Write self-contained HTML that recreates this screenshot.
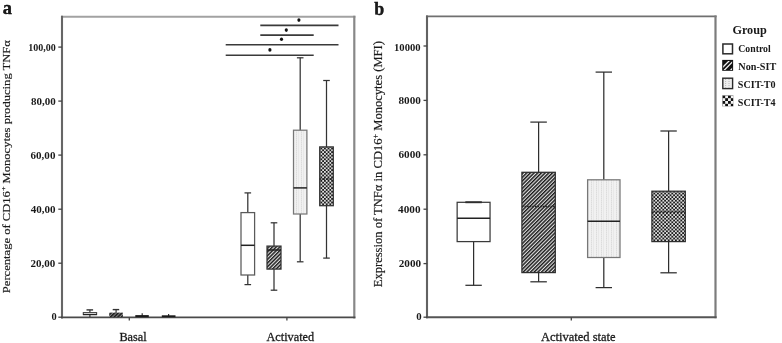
<!DOCTYPE html>
<html><head><meta charset="utf-8"><style>
html,body{margin:0;padding:0;background:#fff;}
svg{display:block;}
text{font-family:"Liberation Serif","Times New Roman",serif;fill:#1a1a1a;}
.hv{stroke:#1a1a1a;stroke-width:0.3px;}
.hl{stroke:#1a1a1a;stroke-width:0.18px;}
</style></head><body>
<svg width="782" height="343" viewBox="0 0 782 343">
<defs>
<pattern id="hatch" patternUnits="userSpaceOnUse" x="0" y="0" width="2.6" height="2.6" patternTransform="rotate(45)">
<rect x="0" y="0" width="2.6" height="2.6" fill="#e2e2e2"/>
<rect x="0" y="0" width="1.45" height="2.6" fill="#1a1a1a"/>
</pattern>
<pattern id="dots" patternUnits="userSpaceOnUse" x="0" y="0" width="5" height="2">
<rect x="0" y="0" width="5" height="2" fill="#f1f1f1"/>
<rect x="1" y="0" width="1" height="2" fill="#dcdcdc"/>
<rect x="1" y="1" width="1" height="1" fill="#e6e6e6"/>
<rect x="3" y="0" width="1" height="2" fill="#e8e8e8"/>
</pattern>
<pattern id="check" patternUnits="userSpaceOnUse" x="0" y="0" width="3.6" height="3.6">
<rect x="0" y="0" width="3.6" height="3.6" fill="#dedede"/>
<rect x="0" y="0" width="1.8" height="1.8" fill="#1c1c1c"/>
<rect x="1.8" y="1.8" width="1.8" height="1.8" fill="#1c1c1c"/>
</pattern>
<pattern id="lcheck" patternUnits="userSpaceOnUse" x="722.4" y="95.4" width="5.6" height="5.6">
<rect x="0" y="0" width="5.6" height="5.6" fill="#f2f2f2"/>
<rect x="0" y="0" width="2.8" height="2.8" fill="#111"/>
<rect x="2.8" y="2.8" width="2.8" height="2.8" fill="#111"/>
</pattern>
<clipPath id="lhclip"><rect x="723.2" y="61" width="8.9" height="8.9"/></clipPath>
</defs>
<text id="ta" x="2.7" y="14.2" font-size="19" font-weight="bold" textLength="9.2" lengthAdjust="spacingAndGlyphs" fill="#000" stroke="#000" stroke-width="0.4">a</text>
<text id="yla" class="hl" transform="translate(9.8,293.2) rotate(-90)" font-size="11" textLength="253.2" lengthAdjust="spacingAndGlyphs">Percentage of CD16<tspan font-size="7" dy="-4">+</tspan><tspan dy="4"> Monocytes producing TNFα</tspan></text>
<g fill="none"><line x1="61" y1="16.8" x2="355.4" y2="16.8" stroke="#a2a2a2" stroke-width="2.1"/><line x1="354.3" y1="15.7" x2="354.3" y2="318.4" stroke="#888" stroke-width="2.2"/><line x1="62" y1="15.7" x2="62" y2="318.4" stroke="#666" stroke-width="2.1"/><line x1="61" y1="317.4" x2="355.4" y2="317.4" stroke="#4a4a4a" stroke-width="1.9"/></g>
<g stroke="#444" stroke-width="1.3">
<line x1="58.3" y1="47.1" x2="62" y2="47.1"/>
<line x1="58.3" y1="101.1" x2="62" y2="101.1"/>
<line x1="58.3" y1="155.1" x2="62" y2="155.1"/>
<line x1="58.3" y1="209.2" x2="62" y2="209.2"/>
<line x1="58.3" y1="263.2" x2="62" y2="263.2"/>
<line x1="58.3" y1="317.2" x2="62" y2="317.2"/>
<line x1="129.3" y1="317.2" x2="129.3" y2="320.6"/>
<line x1="286.9" y1="317.2" x2="286.9" y2="320.6"/>
</g>
<g font-size="11.0" text-anchor="end" font-weight="bold">
<text id="a100" x="55.8" y="50.5" textLength="27.6" lengthAdjust="spacingAndGlyphs">100,00</text>
<text id="a80" x="55.8" y="104.7" textLength="24.8" lengthAdjust="spacingAndGlyphs">80,00</text>
<text id="a60" x="55.4" y="158.5" textLength="24.8" lengthAdjust="spacingAndGlyphs">60,00</text>
<text id="a40" x="55.6" y="213.3" textLength="24.8" lengthAdjust="spacingAndGlyphs">40,00</text>
<text id="a20" x="55.3" y="266.8" textLength="24.8" lengthAdjust="spacingAndGlyphs">20,00</text>
<text id="a0" x="56.6" y="320.3" textLength="5.2" lengthAdjust="spacingAndGlyphs">0</text>
</g>
<text id="basal" x="119.4" y="340.5" font-size="13" textLength="27.3" lengthAdjust="spacingAndGlyphs" fill="#111" class="hv">Basal</text>
<text id="act" x="266.5" y="340.5" font-size="13" textLength="47.7" lengthAdjust="spacingAndGlyphs" fill="#111" class="hv">Activated</text>
<g stroke="#3a3a3a" stroke-width="1.6">
<line x1="260.3" y1="25.4" x2="338.5" y2="25.4"/>
<line x1="260.3" y1="35.1" x2="313.7" y2="35.1"/>
<line x1="225.7" y1="44.7" x2="338.5" y2="44.7"/>
<line x1="225.7" y1="55.2" x2="313.7" y2="55.2"/>
</g>
<g fill="#111">
<ellipse cx="298.9" cy="20.1" rx="1.6" ry="1.8"/>
<ellipse cx="286.3" cy="30.1" rx="1.6" ry="1.8"/>
<ellipse cx="281.5" cy="39.3" rx="1.6" ry="1.8"/>
<ellipse cx="269.9" cy="49.9" rx="1.6" ry="1.8"/>
</g>
<g stroke="#333" stroke-width="1.2">
<line x1="89.9" y1="309.9" x2="89.9" y2="317"/><line x1="86.5" y1="309.9" x2="93.1" y2="309.9" stroke-width="1.4"/>
<rect x="83.3" y="312.6" width="13.3" height="2" fill="#fff" stroke="#444" stroke-width="1.1"/><line x1="83" y1="314.5" x2="96.9" y2="314.5" stroke="#222" stroke-width="1.2"/>
<line x1="116.1" y1="309.6" x2="116.1" y2="313"/><line x1="112.7" y1="309.6" x2="119.2" y2="309.6" stroke-width="1.4"/>
<rect x="109.3" y="312.7" width="13.5" height="4.4" fill="url(#hatch)" stroke="none"/>
<rect x="109.3" y="312.7" width="13.5" height="4.4" fill="#111" opacity="0.45" stroke="none"/>
<line x1="142.2" y1="313.3" x2="142.2" y2="316"/><rect x="135.3" y="315.1" width="13.5" height="2.1" fill="#1a1a1a" stroke="none"/>
<line x1="168.6" y1="314" x2="168.6" y2="316"/><rect x="161.8" y="315.3" width="13.7" height="1.9" fill="#1a1a1a" stroke="none"/>
</g>
<g stroke="#333" stroke-width="1.25">
<line x1="247.8" y1="192.9" x2="247.8" y2="284.6"/>
<line x1="244.50" y1="192.9" x2="251.10" y2="192.9"/>
<line x1="244.50" y1="284.6" x2="251.10" y2="284.6"/>
<rect x="241.00" y="212.6" width="13.6" height="62.40" fill="#fff" stroke="#5a5a5a"/>
<line x1="241.00" y1="245.3" x2="254.60" y2="245.3" stroke-width="1.5" stroke="#222"/>
<line x1="274.0" y1="222.8" x2="274.0" y2="290.2"/>
<line x1="270.70" y1="222.8" x2="277.30" y2="222.8"/>
<line x1="270.70" y1="290.2" x2="277.30" y2="290.2"/>
<rect x="267.00" y="246.1" width="14.0" height="23.00" fill="url(#hatch)"/>
<line x1="267.00" y1="250.0" x2="281.00" y2="250.0" stroke-width="1.5" stroke="#222"/>
<line x1="300.2" y1="57.8" x2="300.2" y2="261.8"/>
<line x1="296.90" y1="57.8" x2="303.50" y2="57.8"/>
<line x1="296.90" y1="261.8" x2="303.50" y2="261.8"/>
<rect x="293.50" y="130.2" width="13.4" height="83.80" fill="url(#dots)" stroke="#777"/>
<line x1="293.50" y1="187.9" x2="306.90" y2="187.9" stroke-width="1.5" stroke="#222"/>
<line x1="326.5" y1="80.5" x2="326.5" y2="258.1"/>
<line x1="323.20" y1="80.5" x2="329.80" y2="80.5"/>
<line x1="323.20" y1="258.1" x2="329.80" y2="258.1"/>
<rect x="319.70" y="146.9" width="13.6" height="58.80" fill="url(#check)"/>
<line x1="319.70" y1="179.0" x2="333.30" y2="179.0" stroke-width="1.5" stroke="#222" stroke-dasharray="1.8 1.8"/>
</g>
<text id="tb" x="374.2" y="14.8" font-size="19.5" font-weight="bold" textLength="10.0" lengthAdjust="spacingAndGlyphs" fill="#000" stroke="#000" stroke-width="0.4">b</text>
<text id="ylb" class="hl" transform="translate(382.2,287.3) rotate(-90)" font-size="11.6" textLength="246.3" lengthAdjust="spacingAndGlyphs">Expression of TNFα in CD16<tspan font-size="7.4" dy="-4">+</tspan><tspan dy="4"> Monocytes (MFI)</tspan></text>
<g fill="none"><line x1="426" y1="16.4" x2="716.6" y2="16.4" stroke="#707070" stroke-width="1.8"/><line x1="715.5" y1="15.4" x2="715.5" y2="318.3" stroke="#7c7c7c" stroke-width="2.2"/><line x1="427" y1="15.4" x2="427" y2="318.3" stroke="#626262" stroke-width="2.1"/><line x1="426" y1="317.3" x2="716.6" y2="317.3" stroke="#555" stroke-width="1.9"/></g>
<g stroke="#444" stroke-width="1.3">
<line x1="423.5" y1="46" x2="427.2" y2="46"/>
<line x1="423.5" y1="100.4" x2="427.2" y2="100.4"/>
<line x1="423.5" y1="154.8" x2="427.2" y2="154.8"/>
<line x1="423.5" y1="209.2" x2="427.2" y2="209.2"/>
<line x1="423.5" y1="263.6" x2="427.2" y2="263.6"/>
<line x1="423.5" y1="317.2" x2="427.2" y2="317.2"/>
<line x1="571.3" y1="317.2" x2="571.3" y2="320.6"/>
</g>
<g font-size="11.0" text-anchor="end" font-weight="bold">
<text id="b10000" x="420.6" y="50.5" textLength="26.6" lengthAdjust="spacingAndGlyphs">10000</text>
<text id="b8000" x="420.9" y="104.4" textLength="22.4" lengthAdjust="spacingAndGlyphs">8000</text>
<text id="b6000" x="420.9" y="158.4" textLength="22.4" lengthAdjust="spacingAndGlyphs">6000</text>
<text id="b4000" x="420.5" y="213.1" textLength="22.4" lengthAdjust="spacingAndGlyphs">4000</text>
<text id="b2000" x="421.1" y="266.6" textLength="22.4" lengthAdjust="spacingAndGlyphs">2000</text>
<text id="b0" x="421.6" y="320.3" textLength="5.4" lengthAdjust="spacingAndGlyphs">0</text>
</g>
<text id="actst" x="541.0" y="341.3" font-size="13" textLength="74.6" lengthAdjust="spacingAndGlyphs" fill="#111" class="hv">Activated state</text>
<g stroke="#2e2e2e" stroke-width="1.25">
<line x1="473.6" y1="202.3" x2="473.6" y2="285.3"/>
<line x1="465.40" y1="202.3" x2="481.80" y2="202.3"/>
<line x1="465.40" y1="285.3" x2="481.80" y2="285.3"/>
<rect x="457.15" y="202.3" width="32.9" height="39.30" fill="#fff" stroke="#3a3a3a"/>
<line x1="457.15" y1="218.2" x2="490.05" y2="218.2" stroke-width="1.5" stroke="#222"/>
<line x1="465.4" y1="202.3" x2="481.8" y2="202.3" stroke-width="1.8"/>
<line x1="538.6" y1="122.1" x2="538.6" y2="281.8"/>
<line x1="530.35" y1="122.1" x2="546.85" y2="122.1"/>
<line x1="530.35" y1="281.8" x2="546.85" y2="281.8"/>
<rect x="521.90" y="172.3" width="33.4" height="100.30" fill="url(#hatch)"/>
<line x1="521.90" y1="206.5" x2="555.30" y2="206.5" stroke-width="1.5" stroke="#222" stroke-dasharray="1.6 1"/>
<line x1="603.8" y1="72.1" x2="603.8" y2="287.6"/>
<line x1="595.60" y1="72.1" x2="612.00" y2="72.1"/>
<line x1="595.60" y1="287.6" x2="612.00" y2="287.6"/>
<rect x="587.60" y="179.8" width="32.4" height="77.70" fill="url(#dots)" stroke="#777"/>
<line x1="587.60" y1="221.2" x2="620.00" y2="221.2" stroke-width="1.5" stroke="#222"/>
<line x1="668.6" y1="131.0" x2="668.6" y2="272.8"/>
<line x1="660.40" y1="131.0" x2="676.80" y2="131.0"/>
<line x1="660.40" y1="272.8" x2="676.80" y2="272.8"/>
<rect x="651.90" y="191.2" width="33.4" height="50.40" fill="url(#check)"/>
<line x1="651.90" y1="212.2" x2="685.30" y2="212.2" stroke-width="1.5" stroke="#222" stroke-dasharray="1.8 1.8"/>
</g>
<text id="grp" x="732.4" y="34.2" font-size="12" font-weight="bold" textLength="34.4" lengthAdjust="spacingAndGlyphs">Group</text>
<rect x="722.9" y="44" width="9.6" height="9.8" fill="#fff" stroke="#2a2a2a" stroke-width="1.5"/>
<rect x="722.2" y="59.9" width="10.9" height="10.9" fill="#111"/>
<g clip-path="url(#lhclip)">
<g stroke="#f4f4f4" stroke-width="1.3">
<line x1="719" y1="71" x2="731" y2="59"/>
<line x1="723.4" y1="71" x2="735.4" y2="59"/>
<line x1="729.8" y1="71" x2="741.8" y2="59"/>
</g>
</g>
<rect x="722.8" y="78.2" width="9.8" height="10.4" fill="#ededed" stroke="#2a2a2a" stroke-width="1.4"/>
<g stroke="#b0b0b0" stroke-width="0.9" stroke-dasharray="1 1">
<line x1="725.6" y1="79" x2="725.6" y2="88"/>
<line x1="729" y1="79" x2="729" y2="88"/>
</g>
<rect x="722.2" y="95.2" width="11.2" height="11.2" fill="url(#lcheck)"/>
<text id="lc" x="738.3" y="52.3" font-size="10" font-weight="bold" textLength="32.4" lengthAdjust="spacingAndGlyphs">Control</text>
<text id="ln" x="738.3" y="70.0" font-size="10" font-weight="bold" textLength="37.9" lengthAdjust="spacingAndGlyphs">Non-SIT</text>
<text id="lt0" x="737.8" y="87.7" font-size="10" font-weight="bold" textLength="37.8" lengthAdjust="spacingAndGlyphs">SCIT-T0</text>
<text id="lt4" x="737.8" y="105.6" font-size="10" font-weight="bold" textLength="37.8" lengthAdjust="spacingAndGlyphs">SCIT-T4</text>
</svg>
</body></html>
